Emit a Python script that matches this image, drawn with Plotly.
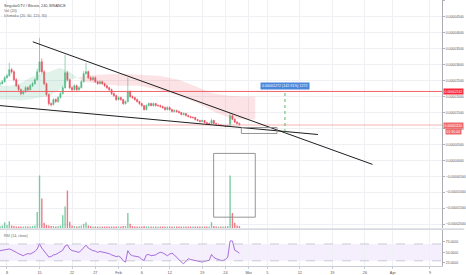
import pandas as pd
import plotly.graph_objects as go

# ---------------- data (prices in satoshi, 1e-8 BTC) ----------------
title_lines = ["SingularDTV / Bitcoin, 240, BINANCE", "Vol (20)", "Ichimoku (20, 60, 120, 30)"]
rsi_title = "RSI (14, close)"
candle_start = "2018-01-06 12:00"
candle_freq = "12h"
first_open = 2400

closes = [2406, 2469, 2594, 2656, 2844, 2781, 2531, 2344, 2219, 2094,
          2156, 2281, 2219, 2344, 2406, 2531, 2781, 3094, 2781, 2406,
          2063, 1781, 1750, 1906, 1844, 1969, 2094, 2281, 2750, 2531,
          2281, 2219, 2344, 2219, 2281, 2469, 2719, 2781, 2594, 2531,
          2594, 2469, 2406, 2469, 2406, 2344, 2281, 2219, 2094, 2031,
          1906, 1969, 1906, 1781, 1844, 2156, 2000, 1969, 1906, 1844,
          1781, 1719, 1594, 1719, 1781, 1719, 1781, 1719, 1719, 1688,
          1656, 1594, 1656, 1594, 1531, 1563, 1531, 1500, 1438, 1469,
          1406, 1375, 1344, 1344, 1281, 1250, 1219, 1250, 1188, 1156,
          1156, 1250, 1156, 1125, 1125, 1094, 1094, 1063, 1094, 1400,
          1290, 1200, 1160, 1110]
highs = [2460, 2520, 2650, 2720, 3060, 2900, 2820, 2580, 2390, 2260,
         2210, 2330, 2320, 2390, 2460, 2580, 2880, 3840, 3200, 2830,
         2440, 2100, 1820, 1950, 1950, 2010, 2140, 2350, 3310, 2800,
         2560, 2320, 2390, 2380, 2330, 2520, 2800, 3063, 2820, 2640,
         2640, 2630, 2500, 2510, 2500, 2440, 2380, 2310, 2250, 2130,
         2060, 2010, 2000, 1930, 1880, 2594, 2200, 2040, 2000, 1940,
         1870, 1810, 1740, 1760, 1820, 1810, 1810, 1800, 1760, 1750,
         1720, 1690, 1700, 1690, 1620, 1600, 1590, 1560, 1520, 1500,
         1490, 1430, 1400, 1380, 1370, 1300, 1270, 1280, 1270, 1210,
         1190, 1310, 1270, 1180, 1160, 1140, 1120, 1110, 1120, 1500,
         1440, 1310, 1230, 1180]
lows = [2340, 2380, 2440, 2560, 2620, 2720, 2480, 2300, 2170, 2040,
        2050, 2120, 2180, 2190, 2300, 2380, 2500, 2750, 2720, 2350,
        2000, 1720, 1690, 1720, 1800, 1810, 1940, 2060, 2250, 2480,
        2230, 2170, 2190, 2180, 2190, 2250, 2440, 2680, 2550, 2490,
        2500, 2430, 2370, 2380, 2370, 2300, 2240, 2180, 2050, 1990,
        1870, 1880, 1870, 1740, 1750, 1820, 1960, 1930, 1870, 1810,
        1740, 1680, 1560, 1570, 1690, 1690, 1690, 1690, 1680, 1650,
        1620, 1560, 1570, 1560, 1500, 1500, 1500, 1470, 1410, 1410,
        1380, 1350, 1320, 1310, 1250, 1220, 1190, 1200, 1160, 1130,
        1130, 1140, 1130, 1100, 1100, 1070, 1070, 1040, 1050, 1080,
        1260, 1170, 1130, 1090]
volumes = [4, 5, 11, 6, 13, 5, 4, 3, 3, 3,
           3, 4, 3, 3, 4, 5, 30, 98, 55, 10,
           6, 5, 4, 4, 3, 4, 5, 24, 40, 70,
           12, 5, 4, 3, 4, 5, 8, 11, 5, 4,
           3, 3, 3, 3, 3, 3, 3, 3, 3, 3,
           3, 3, 3, 4, 4, 28, 8, 4, 3, 3,
           3, 3, 4, 3, 3, 3, 3, 3, 3, 3,
           3, 3, 3, 3, 3, 3, 3, 3, 3, 3,
           3, 3, 3, 3, 3, 3, 3, 3, 3, 3,
           3, 11, 4, 3, 3, 3, 3, 3, 4, 98,
           28, 10, 5, 4]
rsi = [54, 55, 56, 57, 58, 56, 52, 50, 47, 44,
       42, 45, 47, 46, 49, 52, 58, 70, 60, 53,
       45, 39, 40, 44, 45, 48, 50, 55, 65, 68,
       58, 54, 53, 51, 50, 55, 62, 67, 60, 56,
       54, 53, 50, 52, 51, 50, 49, 47, 44, 42,
       40, 41, 38, 30, 27, 54, 45, 42, 41, 40,
       39, 33, 31, 44, 45, 42, 43, 44, 48, 50,
       49, 45, 42, 46, 48, 44, 38, 31, 27, 23,
       28, 35, 33, 32, 31, 30, 28, 27, 29, 30,
       31, 45, 38, 35, 33, 31, 31, 33, 39, 77,
       77, 55, 52, 48]

# Ichimoku cloud (leading spans A / B)
cloud_dates = ["2018-01-06 12:00", "2018-01-08 15:00", "2018-01-10 18:00", "2018-01-12 22:00",
               "2018-01-15 01:00", "2018-01-17 04:00", "2018-01-19 08:00", "2018-01-21 11:00",
               "2018-01-23 04:00", "2018-01-24 16:00", "2018-01-27 21:00", "2018-02-01 03:00",
               "2018-02-05 10:00", "2018-02-09 16:00", "2018-02-13 23:00", "2018-02-18 06:00",
               "2018-02-21 11:00", "2018-02-24 16:00", "2018-02-27 20:00", "2018-03-02 10:00"]
span_a = [2344, 2344, 2406, 2594, 2719, 2781, 2906, 2781, 2594, 2469,
          2406, 2344, 2344, 2219, 2031, 1781, 1531, 1344, 1281, 1281]
span_b = [1906, 1906, 1875, 1906, 1969, 2031, 2219, 2531, 2594, 2656,
          2688, 2719, 2688, 2656, 2531, 2281, 2094, 2031, 2000, 2000]
cloud_switch = 8  # index where span A crosses below span B

# horizontal levels
target_level = 2162
last_price = 1110
countdown = "02:30:44"
measure_text = "0.00001272 (142.91%) 1272"

# drawings (time, price in satoshi)
upper_trend = [("2018-01-13 13:10", 3719), ("2018-03-27 15:00", -125)]
lower_trend = [("2018-01-06 12:00", 1719), ("2018-03-15 21:30", 812)]
price_box = [("2018-02-27 10:00", 1031), ("2018-03-07 02:00", 844)]
volume_box = [("2018-02-21 11:00", 219), ("2018-03-02 10:00", -1781)]
measure_x = "2018-03-08 19:10"
measure_from = 890
measure_label_price = 2330

tick_dates = ["2018-01-08", "2018-01-15", "2018-01-22", "2018-01-27", "2018-02-01", "2018-02-06",
              "2018-02-12", "2018-02-19", "2018-02-24", "2018-03-01", "2018-03-05", "2018-03-12",
              "2018-03-19", "2018-03-26", "2018-04-01", "2018-04-09"]
tick_text = ["8", "15", "22", "27", "Feb", "6", "12", "19", "24", "Mar", "5", "12", "19", "26", "Apr", "9"]
x_range = ["2018-01-06 12:00", "2018-04-11 14:00"]
price_range = [-2125, 5030]
rsi_ticks = [25, 50, 75]
rsi_range = [17.7, 102.6]

# ---------------- build ----------------
SAT = 1e-8
times = pd.date_range(candle_start, periods=len(closes), freq=candle_freq)
opens = [first_open] + closes[:-1]
sat = lambda v: [x * SAT for x in v]

UP, DN = "#53b987", "#eb4d5c"
FONT = "Liberation Sans"

fig = go.Figure()

# cloud
segs = [(0, cloud_switch + 1, "rgba(83,185,135,0.18)"),
        (cloud_switch, len(cloud_dates), "rgba(240,90,100,0.17)")]
for a, b, col in segs:
    fig.add_trace(go.Scatter(x=cloud_dates[a:b], y=sat(span_b[a:b]), mode="lines",
                             line=dict(width=0), hoverinfo="skip", xaxis="x", yaxis="y"))
    fig.add_trace(go.Scatter(x=cloud_dates[a:b], y=sat(span_a[a:b]), mode="lines",
                             line=dict(width=0), fill="tonexty", fillcolor=col,
                             hoverinfo="skip", xaxis="x", yaxis="y"))

# volume
vcols = ["rgba(83,185,135,0.75)" if c >= o else "rgba(235,77,92,0.75)" for o, c in zip(opens, closes)]
fig.add_trace(go.Bar(x=times, y=volumes, marker=dict(color=vcols, line=dict(width=0)),
                     width=12 * 3600 * 1000 * 0.6, xaxis="x", yaxis="y2"))

# candles
fig.add_trace(go.Candlestick(x=times, open=sat(opens), high=sat(highs), low=sat(lows), close=sat(closes),
                             increasing=dict(line=dict(color=UP, width=0.6), fillcolor=UP),
                             decreasing=dict(line=dict(color=DN, width=0.6), fillcolor=DN),
                             whiskerwidth=0, xaxis="x", yaxis="y"))

# rsi
fig.add_trace(go.Scatter(x=times, y=rsi, mode="lines", line=dict(color="#9c5fd6", width=0.9),
                         xaxis="x", yaxis="y3", hoverinfo="skip"))

shapes = []
# rsi band
shapes.append(dict(type="rect", xref="paper", yref="y3", x0=0, x1=1, y0=30, y1=70,
                   fillcolor="rgba(155,90,230,0.10)", line=dict(width=0), layer="below"))
for lv in (30, 70):
    shapes.append(dict(type="line", xref="paper", yref="y3", x0=0, x1=1, y0=lv, y1=lv,
                       line=dict(color="#b8b8c8", width=0.7, dash="dash")))
# pane separator
shapes.append(dict(type="line", xref="paper", yref="paper", x0=0, x1=1.05, y0=0.1385, y1=0.1385,
                   line=dict(color="#c9ccd4", width=1.2)))
# horizontal levels
shapes.append(dict(type="line", xref="paper", yref="y", x0=0, x1=1, y0=target_level * SAT, y1=target_level * SAT,
                   line=dict(color="#f0616a", width=1)))
shapes.append(dict(type="line", xref="paper", yref="y", x0=0, x1=1, y0=last_price * SAT, y1=last_price * SAT,
                   line=dict(color="#f6b3b6", width=1)))
# trend lines
for (t0, p0), (t1, p1) in (upper_trend, lower_trend):
    shapes.append(dict(type="line", xref="x", yref="y", x0=t0, x1=t1, y0=p0 * SAT, y1=p1 * SAT,
                       line=dict(color="#1e1e1e", width=1)))
# boxes
for (t0, p0), (t1, p1) in (price_box, volume_box):
    shapes.append(dict(type="rect", xref="x", yref="y", x0=t0, x1=t1, y0=p0 * SAT, y1=p1 * SAT,
                       line=dict(color="#8a8a8a", width=0.9), fillcolor="rgba(0,0,0,0)"))
# measure
shapes.append(dict(type="line", xref="x", yref="y", x0=measure_x, x1=measure_x,
                   y0=measure_from * SAT, y1=target_level * SAT,
                   line=dict(color="#4caf50", width=0.9, dash="dot")))

ann = []
for i, t in enumerate(title_lines):
    ann.append(dict(xref="paper", yref="paper", x=0.005, y=1 - (5.7 + 5 * i) / 267, text=t,
                    showarrow=False, xanchor="left", yanchor="middle",
                    font=dict(size=3.7, color="#444" if i == 0 else "#666", family=FONT)))
ann.append(dict(xref="paper", yref="paper", x=0.005, y=1 - 237 / 267, text=rsi_title, showarrow=False,
                xanchor="left", yanchor="middle", font=dict(size=3.6, color="#666", family=FONT)))
ann.append(dict(xref="x", yref="y", x=measure_x, y=measure_label_price * SAT, text=measure_text,
                showarrow=False, bgcolor="#4a86d9", borderpad=1,
                font=dict(size=3.6, color="white", family=FONT)))
ann.append(dict(xref="paper", yref="y", x=1, xshift=1, y=target_level * SAT, text=f"{target_level * SAT:.8f}",
                showarrow=False, xanchor="left", bgcolor="#f7263a", borderpad=0.6,
                font=dict(size=3.4, color="white", family=FONT)))
ann.append(dict(xref="paper", yref="y", x=1, xshift=1, y=last_price * SAT, text=f"{last_price * SAT:.8f}",
                showarrow=False, xanchor="left", bgcolor="#ef6a6a", borderpad=0.6,
                font=dict(size=3.4, color="white", family=FONT)))
ann.append(dict(xref="paper", yref="y", x=1, xshift=3, y=last_price * SAT, yshift=-6, text=countdown,
                showarrow=False, xanchor="left", bgcolor="#ef6a6a", borderpad=0.6,
                font=dict(size=3.4, color="white", family=FONT)))

tickfont = dict(size=3.4, color="#555", family=FONT)
fig.update_layout(
    width=466, height=275, margin=dict(l=0, r=21, t=0, b=8),
    paper_bgcolor="white", plot_bgcolor="white", showlegend=False,
    shapes=shapes, annotations=ann,
    xaxis=dict(type="date", range=x_range, anchor="y3", domain=[0, 1],
               tickvals=tick_dates, ticktext=tick_text, tickfont=dict(size=3.8, color="#555", family=FONT),
               showgrid=True, gridcolor="#eef0f4", gridwidth=1, zeroline=False,
               showline=True, linecolor="#c9ccd4", ticks="outside", ticklen=2, tickcolor="#c9ccd4",
               rangeslider=dict(visible=False)),
    yaxis=dict(domain=[0.1423, 1], range=[price_range[0] * SAT, price_range[1] * SAT], side="right",
               anchor="x", tickformat=".8f", tick0=0, dtick=500 * SAT, tickfont=tickfont,
               showgrid=True, gridcolor="#eef0f4", zeroline=False,
               showline=True, linecolor="#a9acb5", linewidth=1.2, ticks="outside", ticklen=2, tickcolor="#b2b5be"),
    yaxis2=dict(overlaying="y", range=[0, 424], visible=False),
    yaxis3=dict(domain=[0, 0.1348], range=rsi_range, side="right", anchor="x",
                tickvals=rsi_ticks, ticktext=[f"{v:.4f}" for v in rsi_ticks], tickfont=tickfont,
                showgrid=False, zeroline=False, showline=True, linecolor="#a9acb5", linewidth=1.2,
                ticks="outside", ticklen=2, tickcolor="#b2b5be"),
)

fig.write_html("out.html")
